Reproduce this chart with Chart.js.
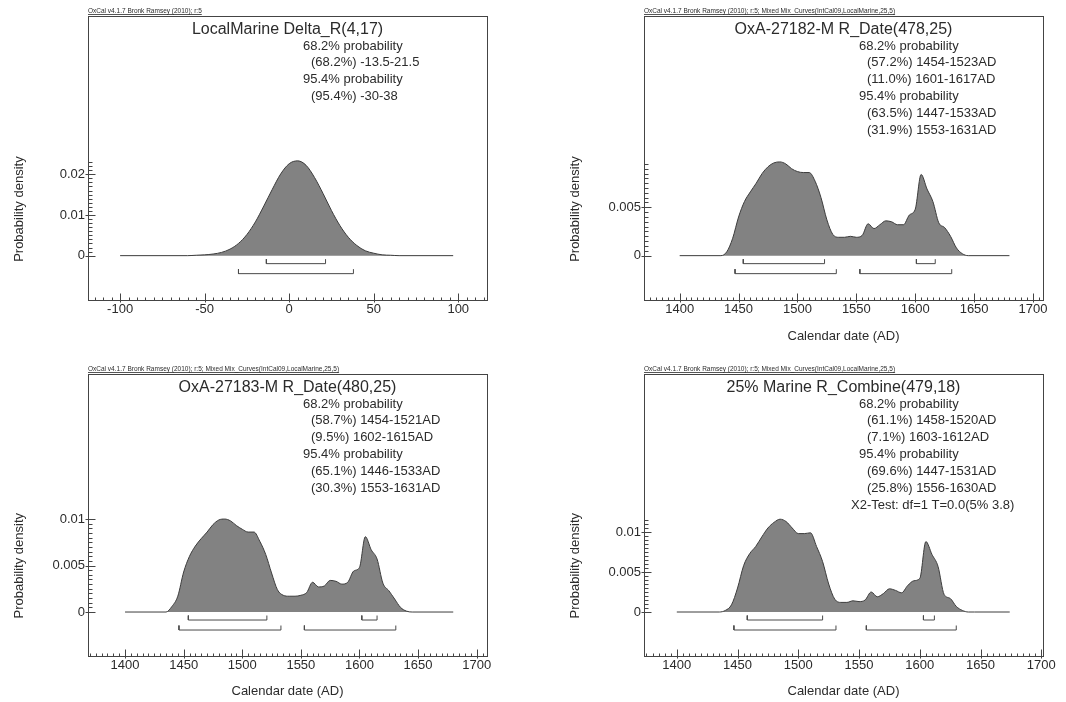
<!DOCTYPE html>
<html>
<head>
<meta charset="utf-8">
<script src="https://cdn.jsdelivr.net/npm/chart.js@4.4.1/dist/chart.umd.min.js"></script>
<style>
  body { margin: 0; background: #fff; }
  #wrap { position: relative; width: 1066px; height: 702px; }
  .cell { position: absolute; width: 533px; height: 351px; }
</style>
</head>
<body>
<div id="wrap">
  <div class="cell" style="left:0;top:0"><canvas id="c1" width="533" height="351"></canvas></div>
  <div class="cell" style="left:533px;top:0"><canvas id="c2" width="533" height="351"></canvas></div>
  <div class="cell" style="left:0;top:351px"><canvas id="c3" width="533" height="351"></canvas></div>
  <div class="cell" style="left:533px;top:351px"><canvas id="c4" width="533" height="351"></canvas></div>
</div>
<script>
// LocalMarine Delta_R(4,17)
const deltaX = [-100, -60, -55, -50, -45, -40, -35, -30, -25, -20, -15, -10, -5, 0, 5, 10, 15, 20, 25, 30, 35, 40, 45, 50, 55, 60, 65, 97];
const deltaY = [0, 0, 0.0001, 0.0002, 0.0004, 0.0008, 0.0016, 0.0030, 0.0052, 0.0083, 0.0122, 0.0163, 0.0201, 0.0226, 0.0233, 0.0222, 0.0192, 0.0153, 0.0111, 0.0074, 0.0045, 0.0025, 0.0012, 0.0006, 0.0002, 0.0001, 0, 0];
const deltaRange68 = [[-13.5, 21.5]];
const deltaRange95 = [[-30, 38]];
const deltaXTicks = [-100, -50, 0, 50, 100];
const deltaYTicks = [0, 0.01, 0.02];

// OxA-27182-M R_Date(478,25)
const oxa82Years = [1400, 1435, 1440, 1445, 1450, 1455, 1460, 1465, 1470, 1475, 1480, 1485, 1490, 1495, 1500, 1505, 1510, 1515, 1520, 1525, 1530, 1535, 1540, 1545, 1550, 1555, 1560, 1565, 1570, 1575, 1580, 1585, 1590, 1595, 1600, 1605, 1610, 1615, 1620, 1625, 1630, 1635, 1640, 1645, 1680];
const oxa82Dens = [0, 0, 0.0004, 0.0018, 0.0040, 0.0056, 0.0066, 0.0075, 0.0085, 0.0092, 0.0096, 0.0097, 0.0095, 0.0090, 0.0087, 0.0086, 0.0086, 0.0077, 0.0060, 0.0037, 0.0022, 0.0019, 0.0019, 0.0020, 0.0019, 0.0021, 0.0033, 0.0028, 0.0032, 0.0036, 0.0035, 0.0032, 0.0032, 0.0042, 0.0048, 0.0084, 0.0069, 0.0056, 0.0034, 0.0029, 0.0020, 0.0008, 0.0002, 0, 0];
const oxa82Range68 = [[1454, 1523], [1601, 1617]];
const oxa82Range95 = [[1447, 1533], [1553, 1631]];
const oxa82YTicks = [0, 0.005];

// OxA-27183-M R_Date(480,25)
const oxa83Years = [1400, 1435, 1440, 1445, 1450, 1455, 1460, 1465, 1470, 1475, 1480, 1485, 1490, 1495, 1500, 1505, 1510, 1515, 1520, 1525, 1530, 1535, 1540, 1545, 1550, 1555, 1560, 1565, 1570, 1575, 1580, 1585, 1590, 1595, 1600, 1605, 1610, 1615, 1620, 1625, 1630, 1635, 1640, 1645, 1680];
const oxa83Dens = [0, 0, 0.0006, 0.0017, 0.0043, 0.0060, 0.0071, 0.0079, 0.0086, 0.0094, 0.0099, 0.0100, 0.0098, 0.0093, 0.0089, 0.0086, 0.0086, 0.0076, 0.0062, 0.0042, 0.0024, 0.0018, 0.0017, 0.0017, 0.0018, 0.0021, 0.0032, 0.0027, 0.0028, 0.0034, 0.0033, 0.0030, 0.0032, 0.0044, 0.0048, 0.0081, 0.0067, 0.0057, 0.0031, 0.0023, 0.0014, 0.0005, 0.0001, 0, 0];
const oxa83Range68 = [[1454, 1521], [1602, 1615]];
const oxa83Range95 = [[1446, 1533], [1553, 1631]];
const oxa83YTicks = [0, 0.005, 0.01];

// 25% Marine R_Combine(479,18)
const combYears = [1400, 1435, 1440, 1445, 1450, 1455, 1460, 1465, 1470, 1475, 1480, 1485, 1490, 1495, 1500, 1505, 1510, 1515, 1520, 1525, 1530, 1535, 1540, 1545, 1550, 1555, 1560, 1565, 1570, 1575, 1580, 1585, 1590, 1595, 1600, 1605, 1610, 1615, 1620, 1625, 1630, 1635, 1640, 1645, 1674];
const combDens = [0, 0, 0.0002, 0.0009, 0.0030, 0.0058, 0.0073, 0.0082, 0.0094, 0.0105, 0.0112, 0.0116, 0.0113, 0.0105, 0.0098, 0.0098, 0.0099, 0.0082, 0.0063, 0.0035, 0.0016, 0.0012, 0.0012, 0.0014, 0.0013, 0.0015, 0.0025, 0.0019, 0.0023, 0.0029, 0.0027, 0.0024, 0.0033, 0.0039, 0.0042, 0.0088, 0.0072, 0.0057, 0.0022, 0.0017, 0.0007, 0.0002, 0, 0, 0];
const combRange68 = [[1458, 1520], [1603, 1612]];
const combRange95 = [[1447, 1531], [1556, 1630]];
const combYTicks = [0, 0.005, 0.01];

const calXTicks = [1400, 1450, 1500, 1550, 1600, 1650, 1700];

const hdrShort = 'OxCal v4.1.7 Bronk Ramsey (2010); r:5';
const hdrMix = 'OxCal v4.1.7 Bronk Ramsey (2010); r:5; Mixed Mix_Curves(IntCal09,LocalMarine,25,5)';

const FONT = '"Liberation Sans", Arial, sans-serif';
const INK = '#2b2b2b';

const panels = [
  { id: 'c1', header: hdrShort, title: 'LocalMarine Delta_R(4,17)',
    lines: ['68.2% probability', ' (68.2%) -13.5-21.5', '95.4% probability', ' (95.4%) -30-38'],
    xs: deltaX, ys: deltaY, r68: deltaRange68, r95: deltaRange95,
    xTicks: deltaXTicks, yTicks: deltaYTicks, xMin: -119, xMax: 117, yMin: -0.0109, yMax: 0.0589,
    xMinor: 5, yMinor: 0.001, xTitle: null, tension: 0.4,
    frame: { left: 88, right: 487, top: 16, bottom: 300 } },
  { id: 'c2', header: hdrMix, title: 'OxA-27182-M R_Date(478,25)',
    lines: ['68.2% probability', ' (57.2%) 1454-1523AD', ' (11.0%) 1601-1617AD', '95.4% probability', ' (63.5%) 1447-1533AD', ' (31.9%) 1553-1631AD'],
    xs: oxa82Years, ys: oxa82Dens, r68: oxa82Range68, r95: oxa82Range95,
    xTicks: calXTicks, yTicks: oxa82YTicks, xMin: 1369.7, xMax: 1708.5, yMin: -0.00459, yMax: 0.0248,
    xMinor: 5, yMinor: 0.0005, xTitle: 'Calendar date (AD)', tension: 0.2, titlePad: 6.5,
    frame: { left: 111, right: 510, top: 16, bottom: 300 } },
  { id: 'c3', header: hdrMix, title: 'OxA-27183-M R_Date(480,25)',
    lines: ['68.2% probability', ' (58.7%) 1454-1521AD', ' (9.5%) 1602-1615AD', '95.4% probability', ' (65.1%) 1446-1533AD', ' (30.3%) 1553-1631AD'],
    xs: oxa83Years, ys: oxa83Dens, r68: oxa83Range68, r95: oxa83Range95,
    xTicks: calXTicks, yTicks: oxa83YTicks, xMin: 1368.4, xMax: 1708.8, yMin: -0.00473, yMax: 0.0256,
    xMinor: 5, yMinor: 0.0005, xTitle: 'Calendar date (AD)', tension: 0.2, titlePad: 2.5,
    frame: { left: 88, right: 487, top: 23, bottom: 305 } },
  { id: 'c4', header: hdrMix, title: '25% Marine R_Combine(479,18)',
    lines: ['68.2% probability', ' (61.1%) 1458-1520AD', ' (7.1%) 1603-1612AD', '95.4% probability', ' (69.6%) 1447-1531AD', ' (25.8%) 1556-1630AD', 'X2-Test: df=1 T=0.0(5% 3.8)'],
    xs: combYears, ys: combDens, r68: combRange68, r95: combRange95,
    xTicks: calXTicks, yTicks: combYTicks, xMin: 1373, xMax: 1701.4, yMin: -0.0055, yMax: 0.02975,
    xMinor: 5, yMinor: 0.0005, xTitle: 'Calendar date (AD)', tension: 0.2, titlePad: 2.5,
    frame: { left: 111, right: 510, top: 23, bottom: 305 } }
];

// range brackets sit a fixed number of pixels under the zero line
function bracketSets(p) {
  const pxPerUnit = (p.frame.bottom - p.frame.top) / (p.yMax - p.yMin);
  const sets = [];
  const add = (ranges, offPx) => ranges.forEach(([a, b]) => {
    const lvl = -offPx / pxPerUnit, up = lvl + 4.5 / pxPerUnit;
    sets.push({
      data: [{ x: a, y: up }, { x: a, y: lvl }, { x: b, y: lvl }, { x: b, y: up }],
      borderColor: '#4a4a4a', borderWidth: 1, pointRadius: 0, fill: false, tension: 0
    });
  });
  add(p.r68, 8);
  add(p.r95, 18);
  return sets;
}

function oxcalPlugin(p) {
  return {
    id: 'oxcal',
    afterDraw(chart) {
      const ctx = chart.ctx, a = chart.chartArea;
      const xs = chart.scales.x, ys = chart.scales.y;
      ctx.save();
      // frame
      ctx.strokeStyle = '#444';
      ctx.lineWidth = 1;
      ctx.strokeRect(Math.round(a.left) + 0.5, Math.round(a.top) + 0.5, Math.round(a.right - a.left), Math.round(a.bottom - a.top));
      // x ticks, pointing inwards
      const bx = Math.round(a.bottom) + 0.5;
      ctx.beginPath();
      for (let i = Math.ceil(xs.min / p.xMinor); i * p.xMinor <= xs.max; i++) {
        const v = i * p.xMinor;
        const px = Math.round(xs.getPixelForValue(v)) + 0.5;
        const major = p.xTicks.includes(v);
        ctx.moveTo(px, bx + (major ? 2 : 0));
        ctx.lineTo(px, bx - (major ? 7 : 3));
      }
      // y ticks only over the density range
      const lx = Math.round(a.left) + 0.5;
      const yTop = Math.max(...p.ys);
      for (let i = 0; i * p.yMinor <= yTop + 1e-9; i++) {
        const v = i * p.yMinor;
        const py = Math.round(ys.getPixelForValue(v)) + 0.5;
        const major = p.yTicks.some(t => Math.abs(t - v) < 1e-9);
        ctx.moveTo(lx - (major ? 3 : 0), py);
        ctx.lineTo(lx + (major ? 7 : 4), py);
      }
      ctx.stroke();

      // header line above the frame
      ctx.fillStyle = INK;
      ctx.font = '6.5px ' + FONT;
      ctx.textAlign = 'left';
      ctx.textBaseline = 'alphabetic';
      ctx.fillText(p.header, a.left, a.top - 3);
      const hw = ctx.measureText(p.header).width;
      ctx.fillRect(a.left, a.top - 2, hw, 0.8);

      // title and summary text
      ctx.font = '16px ' + FONT;
      ctx.textAlign = 'center';
      ctx.textBaseline = 'middle';
      ctx.fillText(p.title, (a.left + a.right) / 2, a.top + 13.5);
      ctx.font = '13px ' + FONT;
      ctx.textAlign = 'left';
      p.lines.forEach((t, i) => {
        let x = a.left + 215;
        if (t.startsWith(' ')) x += 8;
        if (t.startsWith('X2')) x = a.left + 207;
        ctx.fillText(t.trim(), x, a.top + 30 + i * 16.9);
      });

      // y axis title, placed low like OxCal does
      ctx.save();
      ctx.translate(a.left - 69, a.top + 0.68 * (a.bottom - a.top));
      ctx.rotate(-Math.PI / 2);
      ctx.textAlign = 'center';
      ctx.fillText('Probability density', 0, 0);
      ctx.restore();
      ctx.restore();
    }
  };
}

Chart.defaults.font.family = FONT;
Chart.defaults.color = INK;

panels.forEach(p => {
  const H = 351, W = 533;
  const datasets = [{
    data: p.xs.map((x, i) => ({ x: x, y: p.ys[i] })),
    borderColor: '#3c3c3c', borderWidth: 1, backgroundColor: '#828282',
    fill: 'origin', pointRadius: 0, tension: p.tension, cubicInterpolationMode: 'monotone'
  }].concat(bracketSets(p));

  new Chart(document.getElementById(p.id).getContext('2d'), {
    type: 'line',
    data: { datasets: datasets },
    options: {
      responsive: false, animation: false, devicePixelRatio: 1,
      layout: { padding: { left: 0, right: W - p.frame.right, top: p.frame.top, bottom: 0 } },
      plugins: { legend: { display: false }, tooltip: { enabled: false } },
      scales: {
        x: {
          type: 'linear', min: p.xMin, max: p.xMax,
          grid: { display: false, drawTicks: false }, border: { display: false },
          afterBuildTicks: s => { s.ticks = p.xTicks.map(v => ({ value: v })); },
          afterFit: s => { s.height = H - p.frame.bottom; },
          ticks: { font: { size: 13 }, color: INK, padding: 2, maxRotation: 0, autoSkip: false, callback: v => String(v) },
          title: p.xTitle ? { display: true, text: p.xTitle, font: { size: 13 }, color: INK, padding: { top: 0, bottom: p.titlePad } } : { display: false }
        },
        y: {
          type: 'linear', min: p.yMin, max: p.yMax,
          grid: { display: false, drawTicks: false }, border: { display: false },
          afterBuildTicks: s => { s.ticks = p.yTicks.map(v => ({ value: v })); },
          afterFit: s => { s.width = p.frame.left; },
          ticks: { font: { size: 13 }, color: INK, padding: 3, callback: v => String(v) }
        }
      }
    },
    plugins: [oxcalPlugin(p)]
  });
});
</script>
</body>
</html>
